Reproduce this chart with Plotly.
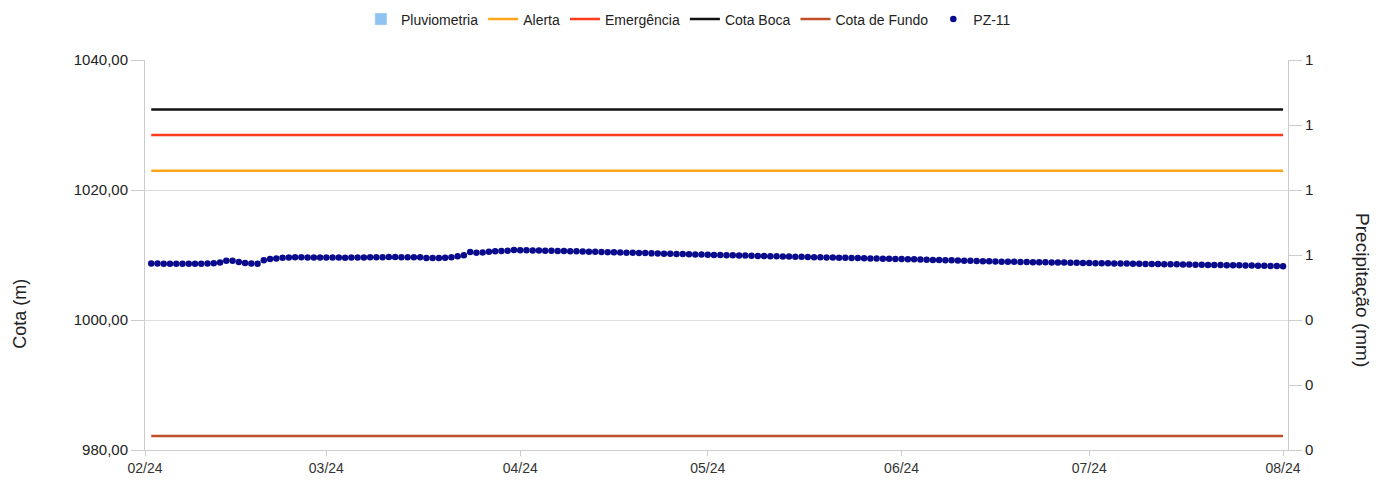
import pandas as pd
import plotly.graph_objects as go

# ---- data ----
start_date = "2024-02-02"
n_days = 182
dates = pd.date_range(start_date, periods=n_days, freq="D")

pz11 = [
    1008.70, 1008.68, 1008.67, 1008.66, 1008.65, 1008.65, 1008.64, 1008.65, 1008.66, 1008.68,
    1008.72, 1008.85, 1009.10, 1009.12, 1008.92, 1008.76, 1008.70, 1008.64, 1009.20, 1009.38,
    1009.45, 1009.58, 1009.62, 1009.65, 1009.64, 1009.63, 1009.62, 1009.62, 1009.61, 1009.60,
    1009.60, 1009.59, 1009.60, 1009.62, 1009.63, 1009.64, 1009.66, 1009.67, 1009.68, 1009.68,
    1009.67, 1009.66, 1009.66, 1009.65, 1009.55, 1009.52, 1009.52, 1009.56, 1009.64, 1009.80,
    1009.95, 1010.45, 1010.35, 1010.40, 1010.50, 1010.56, 1010.60, 1010.67, 1010.77, 1010.75,
    1010.72, 1010.70, 1010.68, 1010.66, 1010.64, 1010.62, 1010.60, 1010.58, 1010.56, 1010.53,
    1010.51, 1010.49, 1010.46, 1010.44, 1010.41, 1010.39, 1010.36, 1010.34, 1010.31, 1010.29,
    1010.26, 1010.24, 1010.21, 1010.19, 1010.16, 1010.14, 1010.11, 1010.09, 1010.06, 1010.04,
    1010.01, 1009.99, 1009.97, 1009.95, 1009.93, 1009.91, 1009.88, 1009.86, 1009.84, 1009.82,
    1009.80, 1009.78, 1009.76, 1009.74, 1009.72, 1009.70, 1009.67, 1009.65, 1009.63, 1009.61,
    1009.59, 1009.57, 1009.55, 1009.53, 1009.51, 1009.48, 1009.46, 1009.44, 1009.42, 1009.40,
    1009.38, 1009.35, 1009.33, 1009.30, 1009.28, 1009.25, 1009.23, 1009.20, 1009.18, 1009.15,
    1009.13, 1009.10, 1009.08, 1009.05, 1009.03, 1009.00, 1008.98, 1008.96, 1008.95, 1008.93,
    1008.92, 1008.90, 1008.89, 1008.87, 1008.86, 1008.84, 1008.83, 1008.81, 1008.80, 1008.78,
    1008.77, 1008.75, 1008.74, 1008.72, 1008.71, 1008.69, 1008.68, 1008.66, 1008.65, 1008.63,
    1008.62, 1008.60, 1008.59, 1008.57, 1008.56, 1008.54, 1008.53, 1008.51, 1008.50, 1008.48,
    1008.47, 1008.45, 1008.44, 1008.42, 1008.41, 1008.39, 1008.38, 1008.36, 1008.34, 1008.32,
    1008.30, 1008.28,
]

# no rainfall recorded in the period
pluvio_dates = ["2024-02-02"]
pluvio_mm = [0]

alerta = 1022.97
emergencia = 1028.46
cota_boca = 1032.40
cota_fundo = 982.15

y2_tickvals = [0, 1 / 6, 2 / 6, 3 / 6, 4 / 6, 5 / 6, 1]
y2_ticktext = ["0", "0", "0", "1", "1", "1", "1"]

FONT = "Liberation Sans, Arial, sans-serif"

fig = go.Figure()

fig.add_trace(go.Bar(x=pluvio_dates, y=pluvio_mm, name="Pluviometria",
                     marker_color="#8EC3F2", yaxis="y2"))

ref_lines = [
    ("Alerta", alerta, "#FFA51A"),
    ("Emergência", emergencia, "#FF3A1E"),
    ("Cota Boca", cota_boca, "#111111"),
    ("Cota de Fundo", cota_fundo, "#BF4F28"),
]
for name, val, color in ref_lines:
    fig.add_trace(go.Scatter(x=[dates[0], dates[-1]], y=[val, val], mode="lines",
                             name=name, line=dict(color=color, width=2.5)))

fig.add_trace(go.Scatter(x=dates, y=pz11, mode="markers", name="PZ-11",
                         marker=dict(color="#0A0A8C", size=6.5)))

fig.update_layout(
    width=1383, height=491,
    margin=dict(l=137, r=103, t=52, b=49, autoexpand=False),
    paper_bgcolor="white", plot_bgcolor="white",
    separators=",.",
    font=dict(family=FONT, size=14, color="#333333"),
    showlegend=True,
    legend=dict(orientation="h", xref="container", yref="paper",
                x=0.492, xanchor="center", y=1.145, yanchor="top",
                font=dict(size=14, color="#222222"), traceorder="normal"),
    xaxis=dict(range=["2024-02-01", "2024-08-01 19:00"], dtick="M1",
               tick0="2024-02-01", tickformat="%m/%y", showgrid=False,
               showline=True, linecolor="#cccccc", linewidth=1, automargin=False,
               ticks="outside", ticklen=5, tickcolor="#cccccc",
               tickfont=dict(size=14, color="#333333")),
    yaxis=dict(range=[980, 1040], dtick=20, tickformat=".2f",
               showgrid=True, gridcolor="#dddddd", zeroline=False, automargin=False,
               showline=True, linecolor="#cccccc", linewidth=1,
               ticks="outside", ticklen=13, tickcolor="#cccccc",
               tickfont=dict(size=15, color="#222222")),
    yaxis2=dict(range=[0, 1], overlaying="y", side="right",
                tickvals=y2_tickvals, ticktext=y2_ticktext, automargin=False,
                showgrid=False, zeroline=False,
                showline=True, linecolor="#cccccc", linewidth=1,
                ticks="outside", ticklen=13, tickcolor="#cccccc",
                tickfont=dict(size=15, color="#222222")),
    annotations=[
        dict(text="Cota (m)", xref="paper", yref="paper", x=-0.110, y=0.35,
             textangle=-90, showarrow=False, font=dict(size=18, color="#222222"),
             xanchor="center", yanchor="middle"),
        dict(text="Precipitação (mm)", xref="paper", yref="paper", x=1.0656, y=0.41,
             textangle=90, showarrow=False, font=dict(size=19, color="#222222"),
             xanchor="center", yanchor="middle"),
    ],
)

fig.write_html("out.html")
